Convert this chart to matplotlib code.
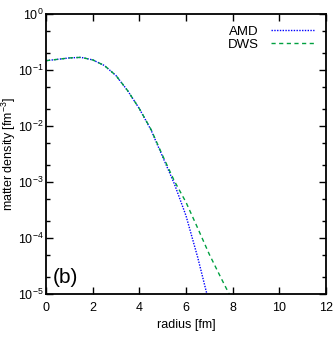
import numpy as np
import matplotlib
matplotlib.use("Agg")
import matplotlib.pyplot as plt
from matplotlib.ticker import LogLocator, NullFormatter

# radius grid [fm] and log10 of matter density
radius = [0.0, 0.5, 1.0, 1.5, 2.0, 2.5, 3.0, 3.5, 4.0, 4.5, 5.0, 5.5, 6.0, 6.5, 7.0, 7.5, 8.0]
log_amd = [-0.834, -0.81, -0.785, -0.775, -0.82, -0.92, -1.10, -1.37, -1.69, -2.07, -2.55, -3.03,
           -3.60, -4.34, -5.17, None, None]
log_dws = [-0.834, -0.81, -0.785, -0.775, -0.82, -0.92, -1.10, -1.37, -1.69, -2.06, -2.53, -2.98,
           -3.36, -3.82, -4.29, -4.71, -5.12]

xticks = [0, 2, 4, 6, 8, 10, 12]
yticks = [1e-5, 1e-4, 1e-3, 1e-2, 1e-1, 1e0]
ytick_labels = [r"$10^{-5}$", r"$10^{-4}$", r"$10^{-3}$", r"$10^{-2}$", r"$10^{-1}$", r"$10^{0}$"]

plt.rcParams['font.family'] = ['Liberation Sans', 'DejaVu Sans']
plt.rcParams['mathtext.fontset'] = 'custom'
plt.rcParams['mathtext.rm'] = 'Liberation Sans'

fig = plt.figure(figsize=(3.36, 3.40), dpi=100)
ax = fig.add_axes([0.137, 0.135, 0.833, 0.824])

# AMD curve (stops where data runs out)
r_amd = [r for r, v in zip(radius, log_amd) if v is not None]
rho_amd = [10 ** v for v in log_amd if v is not None]
rho_dws = [10 ** v for v in log_dws]

ax.plot(r_amd, rho_amd, color='#0000ff', linestyle=(0, (1, 1)), linewidth=1.0, label='AMD')
ax.plot(radius, rho_dws, color='#00a040', linestyle=(0, (3, 2.5)), linewidth=1.0, label='DWS')

ax.set_yscale('log')
ax.set_xlim(0, 12)
ax.set_ylim(1e-5, 1)
ax.set_xticks(xticks)
ax.set_yticks(yticks)
ax.set_yticklabels(ytick_labels)
ax.yaxis.set_minor_locator(LogLocator(base=10, subs=[2, 5]))
ax.yaxis.set_minor_formatter(NullFormatter())

ax.tick_params(which='both', direction='in', top=True, right=True, labelsize=9)
ax.tick_params(which='major', length=5, width=1)
ax.tick_params(which='minor', length=3, width=1)
ax.tick_params(axis='x', pad=6)
ax.tick_params(axis='y', pad=1.5)
for s in ax.spines.values():
    s.set_linewidth(1.3)

ax.set_xlabel('radius [fm]', fontsize=9, labelpad=3)
ax.set_ylabel(r'matter density [fm$^{-3}$]', fontsize=9, labelpad=0)

ax.text(0.3, 1.6e-5, '(b)', fontsize=15)

ax.legend(loc='upper right', frameon=False, markerfirst=False, fontsize=9.5,
          handlelength=3.3, handletextpad=0.9, labelspacing=0.05, borderaxespad=0.5)

fig.savefig('out.png', dpi=100)
